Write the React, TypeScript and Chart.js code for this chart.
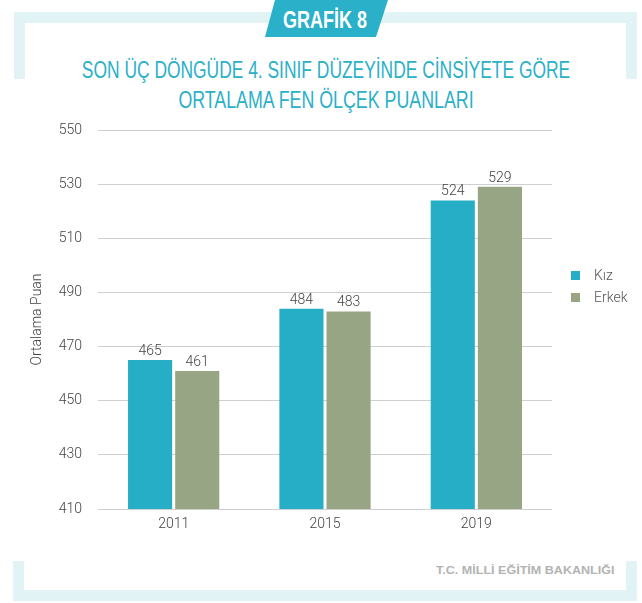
import React, { useEffect, useRef } from "react";
import { Chart, registerables } from "chart.js";

Chart.register(...registerables);

const categories = ["2011", "2015", "2019"];
const kizValues = [465, 484, 524];
const erkekValues = [461, 483, 529];
const seriesLabels = ["Kız", "Erkek"];
const seriesColors = ["#26aec6", "#98a584"];
const yMin = 410;
const yMax = 550;
const yStep = 20;
const yTitle = "Ortalama Puan";
const badgeText = "GRAFİK 8";
const titleLines = [
  "SON ÜÇ DÖNGÜDE 4. SINIF DÜZEYİNDE CİNSİYETE GÖRE",
  "ORTALAMA FEN ÖLÇEK PUANLARI",
];
const footerText = "T.C. MİLLİ EĞİTİM BAKANLIĞI";

const FRAME = "#e2f3f6";
const TEAL = "#2ab0c8";
const TEXT = "#444444";

const valueLabels = {
  id: "valueLabels",
  afterDatasetsDraw(chart: any) {
    const ctx = chart.ctx;
    ctx.save();
    ctx.font = "300 14px Roboto";
    ctx.fillStyle = TEXT;
    ctx.textAlign = "center";
    ctx.textBaseline = "alphabetic";
    chart.data.datasets.forEach((ds: any, di: number) => {
      const meta = chart.getDatasetMeta(di);
      meta.data.forEach((el: any, i: number) => {
        ctx.fillText(String(ds.data[i]), el.x, el.y - 5);
      });
    });
    ctx.restore();
  },
};

function FitText(props: {
  text: string;
  width: number;
  left: number;
  top: number;
  origin: "center" | "left";
  style: React.CSSProperties;
}) {
  const ref = useRef<HTMLSpanElement | null>(null);
  useEffect(() => {
    const el = ref.current;
    if (!el) return;
    const w = el.offsetWidth;
    const s = w > 0 ? props.width / w : 1;
    if (props.origin === "center") {
      el.style.transform = `translateX(-50%) scaleX(${s})`;
      el.style.transformOrigin = "center";
    } else {
      el.style.transform = `scaleX(${s})`;
      el.style.transformOrigin = "left";
    }
  }, [props.text, props.width]);
  return (
    <span
      ref={ref}
      style={{
        position: "absolute",
        left: props.left,
        top: props.top,
        whiteSpace: "nowrap",
        display: "inline-block",
        ...props.style,
      }}
    >
      {props.text}
    </span>
  );
}

export default function App() {
  const canvasRef = useRef<HTMLCanvasElement | null>(null);

  useEffect(() => {
    if (!canvasRef.current) return;
    const chart = new Chart(canvasRef.current, {
      type: "bar",
      data: {
        labels: categories,
        datasets: [
          {
            label: seriesLabels[0],
            data: kizValues,
            backgroundColor: seriesColors[0],
            categoryPercentage: 0.623,
            barPercentage: 0.936,
          },
          {
            label: seriesLabels[1],
            data: erkekValues,
            backgroundColor: seriesColors[1],
            categoryPercentage: 0.623,
            barPercentage: 0.936,
          },
        ],
      },
      options: {
        animation: false,
        responsive: false,
        devicePixelRatio: 1,
        layout: { padding: { left: 0, right: 90, top: 130, bottom: 54 } },
        plugins: {
          legend: { display: false },
          tooltip: { enabled: false },
          title: { display: false },
        },
        scales: {
          x: {
            grid: { display: false, drawTicks: false },
            border: { display: false },
            ticks: {
              color: TEXT,
              font: { family: "Roboto", size: 14, weight: "300" },
              padding: 7,
            },
            afterFit: (scale: any) => {
              scale.height = 40;
            },
          },
          y: {
            min: yMin,
            max: yMax,
            grid: { color: "#cfcfcf", lineWidth: 1, drawTicks: false },
            border: { display: false },
            ticks: {
              stepSize: yStep,
              color: TEXT,
              font: { family: "Roboto", size: 14, weight: "300" },
              padding: 16,
            },
            title: {
              display: true,
              text: yTitle,
              color: TEXT,
              font: { family: "Roboto", size: 14, weight: "300" },
              padding: { top: 29, bottom: 0 },
            },
            afterFit: (scale: any) => {
              scale.width = 98;
            },
          },
        },
      },
      plugins: [valueLabels],
    } as any);
    return () => chart.destroy();
  }, []);

  const box = (l: number, t: number, w: number, h: number, c: string): React.CSSProperties => ({
    position: "absolute",
    left: l,
    top: t,
    width: w,
    height: h,
    background: c,
  });

  return (
    <div
      style={{
        position: "absolute",
        left: 0,
        top: 0,
        width: 642,
        height: 603,
        background: "#ffffff",
        overflow: "hidden",
        fontFamily: "Roboto, sans-serif",
      }}
    >
      {/* top bracket */}
      <div style={box(14, 12, 623, 11, FRAME)} />
      <div style={box(14, 12, 11, 67, FRAME)} />
      <div style={box(626, 12, 11, 67, FRAME)} />
      {/* bottom bracket */}
      <div style={box(13, 590, 624, 11, FRAME)} />
      <div style={box(13, 561, 11, 40, FRAME)} />
      <div style={box(626, 561, 11, 40, FRAME)} />
      {/* badge */}
      <div
        style={{
          ...box(265, 0, 123, 37, TEAL),
          clipPath: "polygon(10px 0, 123px 0, 111px 37px, 0 37px)",
        }}
      />
      <FitText
        text={badgeText}
        width={84}
        left={325}
        top={8}
        origin="center"
        style={{
          fontFamily: "'Liberation Sans Narrow', 'Liberation Sans', sans-serif",
          fontWeight: 700,
          fontSize: 24,
          lineHeight: "24px",
          color: "#ffffff",
        }}
      />
      <FitText
        text={titleLines[0]}
        width={488}
        left={326}
        top={59}
        origin="center"
        style={{
          fontFamily: "'Liberation Sans Narrow', 'Liberation Sans', sans-serif",
          fontSize: 23,
          lineHeight: "23px",
          color: TEAL,
        }}
      />
      <FitText
        text={titleLines[1]}
        width={295}
        left={325.5}
        top={89}
        origin="center"
        style={{
          fontFamily: "'Liberation Sans Narrow', 'Liberation Sans', sans-serif",
          fontSize: 23,
          lineHeight: "23px",
          color: TEAL,
        }}
      />
      <FitText
        text={footerText}
        width={178}
        left={436}
        top={565}
        origin="left"
        style={{
          fontFamily: "'Liberation Sans Narrow', 'Liberation Sans', sans-serif",
          fontWeight: 700,
          fontSize: 11,
          lineHeight: "11px",
          color: "#b3b3b3",
        }}
      />
      <canvas
        ref={canvasRef}
        width={642}
        height={603}
        style={{ position: "absolute", left: 0, top: 0, width: 642, height: 603, display: "block" }}
      />
      {/* legend */}
      {seriesLabels.map((lab, i) => (
        <div
          key={lab}
          style={{
            position: "absolute",
            left: 571,
            top: 266 + i * 22,
            height: 18,
            display: "flex",
            alignItems: "center",
            fontFamily: "Roboto",
            fontWeight: 300,
            fontSize: 14,
            color: "#555555",
            whiteSpace: "nowrap",
          }}
        >
          <span
            style={{
              display: "inline-block",
              width: 9,
              height: 9,
              background: seriesColors[i],
              marginRight: 14,
            }}
          />
          <span>{lab}</span>
        </div>
      ))}
    </div>
  );
}
